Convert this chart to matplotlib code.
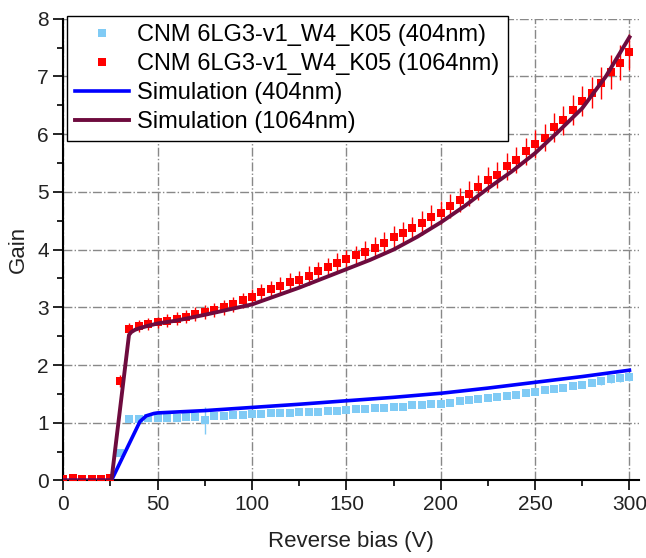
import matplotlib
matplotlib.use("Agg")
import matplotlib.pyplot as plt
from matplotlib.ticker import MultipleLocator
from matplotlib.lines import Line2D

plt.rcParams['font.family'] = ['Liberation Sans', 'DejaVu Sans']

# measured points, every 5 V
bias = list(range(0, 305, 5))

gain_404 = [0.03, 0.03, 0.03, 0.03, 0.03, 0.04, 0.47, 1.07, 1.07, 1.08,
            1.08, 1.09, 1.09, 1.10, 1.10, 1.04, 1.11, 1.12, 1.13, 1.14,
            1.15, 1.15, 1.16, 1.16, 1.17, 1.18, 1.18, 1.19, 1.20, 1.21,
            1.22, 1.23, 1.24, 1.25, 1.26, 1.27, 1.28, 1.30, 1.31, 1.32,
            1.33, 1.35, 1.37, 1.39, 1.41, 1.43, 1.45, 1.46, 1.48, 1.51,
            1.54, 1.56, 1.58, 1.61, 1.63, 1.66, 1.69, 1.72, 1.75, 1.78,
            1.80]
err_404 = [0.02, 0.02, 0.02, 0.02, 0.02, 0.02, 0.05, 0.04, 0.04, 0.04,
           0.04, 0.04, 0.04, 0.04, 0.04, 0.23, 0.04, 0.04, 0.04, 0.04,
           0.04, 0.04, 0.04, 0.04, 0.04, 0.04, 0.04, 0.04, 0.04, 0.04,
           0.04, 0.04, 0.04, 0.04, 0.04, 0.04, 0.04, 0.04, 0.04, 0.04,
           0.04, 0.04, 0.04, 0.04, 0.04, 0.04, 0.04, 0.05, 0.05, 0.05,
           0.05, 0.05, 0.05, 0.05, 0.05, 0.05, 0.06, 0.06, 0.06, 0.07,
           0.07]

gain_1064 = [0.03, 0.04, 0.03, 0.03, 0.03, 0.04, 1.72, 2.63, 2.68, 2.71,
             2.74, 2.77, 2.80, 2.84, 2.88, 2.92, 2.96, 3.00, 3.05, 3.12,
             3.18, 3.26, 3.32, 3.37, 3.44, 3.48, 3.55, 3.63, 3.69, 3.77,
             3.83, 3.90, 3.96, 4.03, 4.12, 4.22, 4.29, 4.37, 4.46, 4.57,
             4.64, 4.76, 4.86, 4.97, 5.08, 5.21, 5.29, 5.44, 5.55, 5.70,
             5.83, 5.94, 6.12, 6.24, 6.42, 6.58, 6.72, 6.89, 7.08, 7.24,
             7.42]
err_1064 = [0.03, 0.03, 0.03, 0.03, 0.03, 0.03, 0.10, 0.10, 0.10, 0.10,
            0.10, 0.11, 0.11, 0.11, 0.12, 0.12, 0.12, 0.13, 0.13, 0.13,
            0.14, 0.14, 0.14, 0.15, 0.15, 0.15, 0.16, 0.16, 0.16, 0.17,
            0.17, 0.17, 0.18, 0.18, 0.18, 0.19, 0.19, 0.19, 0.20, 0.20,
            0.20, 0.21, 0.21, 0.21, 0.22, 0.22, 0.22, 0.23, 0.23, 0.23,
            0.24, 0.24, 0.25, 0.25, 0.26, 0.26, 0.27, 0.28, 0.29, 0.30,
            0.31]

# simulation curves
sim_bias_404 = [0, 25.5, 40.6, 44, 48, 50, 75, 100, 125, 150, 175, 200, 225, 250, 275, 300]
sim_gain_404 = [0, 0, 1.02, 1.12, 1.16, 1.17, 1.21, 1.265, 1.32, 1.38, 1.44, 1.51, 1.60, 1.70, 1.80, 1.91]

sim_bias_1064 = [0, 25.5, 34.8, 36, 38, 40.6, 45, 50, 60, 75, 100, 125, 150, 162.5, 175,
                 187.5, 200, 212.5, 225, 237.5, 250, 262.5, 275, 287.5, 300]
sim_gain_1064 = [0, 0, 2.52, 2.57, 2.61, 2.64, 2.68, 2.72, 2.77, 2.87, 3.05, 3.34, 3.66, 3.82, 4.0,
                 4.22, 4.47, 4.75, 5.06, 5.35, 5.67, 6.05, 6.45, 7.0, 7.68]

c_lblue = '#80cbf5'
c_red = '#ff0000'
c_blue = '#0000ff'
c_wine = '#6e0b3e'

fig = plt.figure(figsize=(6.46, 5.58), dpi=100)
ax = fig.add_axes([0.098, 0.139, 0.891, 0.8275])

ax.errorbar(bias, gain_404, yerr=err_404, fmt='s', color=c_lblue, ms=5.2,
            mew=0, elinewidth=1, capsize=3.5, zorder=3)
ax.errorbar(bias, gain_1064, yerr=err_1064, fmt='s', color=c_red, ms=5.2,
            mew=0, elinewidth=1, capsize=3.5, zorder=3)
ax.plot(sim_bias_404, sim_gain_404, color=c_blue, lw=2.6, zorder=4)
ax.plot(sim_bias_1064, sim_gain_1064, color=c_wine, lw=2.8, zorder=5)

ax.set_xlim(0, 305)
ax.set_ylim(0, 8)
ax.xaxis.set_major_locator(MultipleLocator(50))
ax.xaxis.set_minor_locator(MultipleLocator(25))
ax.yaxis.set_major_locator(MultipleLocator(1))
ax.yaxis.set_minor_locator(MultipleLocator(0.5))
ax.tick_params(which='major', direction='out', length=7, width=1.2, labelsize=15,
               labelcolor='#222222')
ax.tick_params(which='minor', direction='out', length=4, width=1.2)
ax.grid(True, which='major', color='#888888', ls='-.', lw=1)

for s in ['top', 'right']:
    ax.spines[s].set_visible(False)
for s in ['left', 'bottom']:
    ax.spines[s].set_linewidth(1.5)

ax.set_xlabel('Reverse bias (V)', fontsize=16, color='#222222', labelpad=12)
ax.set_ylabel('Gain', fontsize=16, color='#222222', labelpad=6)

handles = [
    Line2D([], [], ls='none', marker='s', color=c_lblue, ms=5.5, mew=0),
    Line2D([], [], ls='none', marker='s', color=c_red, ms=5.5, mew=0),
    Line2D([], [], color=c_blue, lw=2.6),
    Line2D([], [], color=c_wine, lw=2.8),
]
labels = ['CNM 6LG3-v1_W4_K05 (404nm)', 'CNM 6LG3-v1_W4_K05 (1064nm)',
          'Simulation (404nm)', 'Simulation (1064nm)']
leg = fig.legend(handles, labels, loc='upper left', bbox_to_anchor=(0.103, 0.972),
                 fontsize=17, frameon=True, fancybox=False, framealpha=1,
                 edgecolor='black', handlelength=2.3, handletextpad=0.35,
                 labelspacing=0.3, borderpad=0.35, borderaxespad=0)
leg.get_frame().set_linewidth(1.0)

fig.savefig('out.png', dpi=100)
